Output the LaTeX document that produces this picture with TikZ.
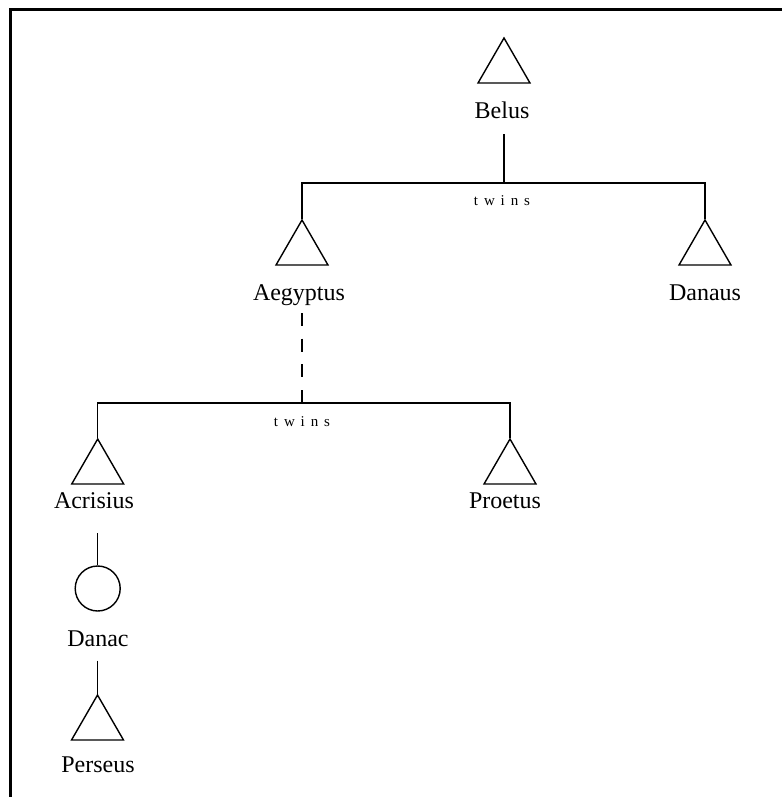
\documentclass[tikz,border=0pt]{standalone}
\usepackage{fontspec}
\setmainfont{Liberation Serif}
\usetikzlibrary{shapes.geometric}
\begin{document}
\begin{tikzpicture}[x=1pt,y=-1pt,
  line width=1.5pt,
  male/.style={draw,regular polygon,regular polygon sides=3,minimum size=60pt,inner sep=0pt,line width=1.4pt},
  female/.style={draw,circle,minimum size=45pt,inner sep=0pt,line width=1.4pt},
  lab/.style={anchor=base,inner sep=0pt,font=\fontsize{24}{28}\selectfont},
  twinlab/.style={anchor=base,inner sep=0pt,font=\fontsize{15}{17}\selectfont},
  frame/.style={line width=3pt}
]
\useasboundingbox (0,0) rectangle (782,797);
% frame (top and left)
\coordinate (fbl) at (10,797);
\coordinate (ftl) at (10,10);
\coordinate (ftr) at (782,10);
\draw[frame] (fbl) -- (ftl) -- (ftr);

% generation 1
\node[male] (belus) at (504,68) {};
\node[lab] (belusL) at (502,118) {Belus};
\coordinate (b1) at (504,134);
\coordinate (j1) at (504,183);

% generation 2
\node[male] (aeg) at (302,250) {};
\node[lab] (aegL) at (299,300) {Aegyptus};
\node[male] (dan) at (705,250) {};
\node[lab] (danL) at (705,300) {Danaus};
\node[twinlab] (tw1) at (502,205.5) {t\kern5.9pt w\kern5.9pt i\kern5.9pt n\kern5.9pt s};

\draw (b1) -- (j1);
\draw (aeg.corner 1) -- (aeg.corner 1 |- j1) -- (dan.corner 1 |- j1) -- (dan.corner 1);

% dashed descent
\coordinate (a1) at (302,313);
\coordinate (j2) at (302,403);
\draw[dash pattern=on 13pt off 12.67pt] (a1) -- (j2);

% generation 3
\node[male] (acr) at (97.7,469) {};
\node[lab] (acrL) at (94,508.3) {Acrisius};
\node[male] (pro) at (510,469) {};
\node[lab] (proL) at (505,508.3) {Proetus};
\node[twinlab] (tw2) at (302,426.5) {t\kern5.9pt w\kern5.9pt i\kern5.9pt n\kern5.9pt s};

\draw (acr.corner 1) -- (acr.corner 1 |- j2) -- (pro.corner 1 |- j2) -- (pro.corner 1);

% Danae
\coordinate (c1) at (97.7,533);
\node[female] (danae) at (97.7,588.5) {};
\node[lab] (danaeL) at (98,646) {Danac};
\draw (c1) -- (danae.north);

% Perseus
\coordinate (d1) at (97.5,660.5);
\node[male] (per) at (97.5,725) {};
\node[lab] (perL) at (98,772.7) {Perseus};
\draw (d1) -- (per.corner 1);
\end{tikzpicture}
\end{document}
